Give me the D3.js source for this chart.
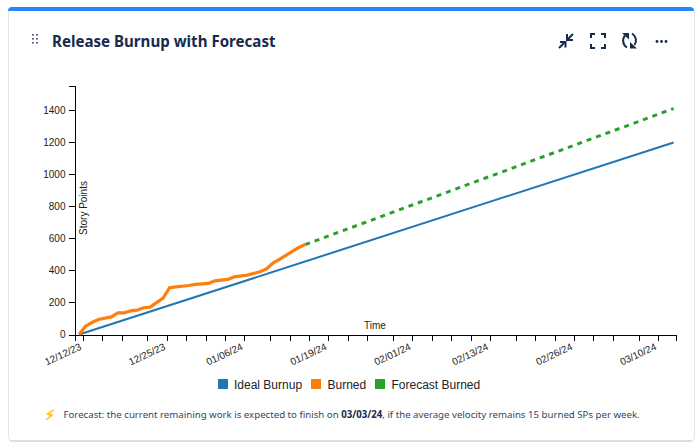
<!DOCTYPE html>
<html><head><meta charset="utf-8">
<script src="https://cdn.jsdelivr.net/npm/d3@7/dist/d3.min.js"></script>
<style>
html,body{margin:0;padding:0;background:#fff;width:699px;height:446px;overflow:hidden}
svg{display:block}
.ax text{font-family:"Liberation Sans",Arial,sans-serif;fill:#222}
.ax path,.ax line{stroke:#000;stroke-width:1;shape-rendering:crispEdges}
</style></head><body>
<svg id="c" width="699" height="446"></svg>
<script>
const titleText="Release Burnup with Forecast";
const legendNames=["Ideal Burnup","Burned","Forecast Burned"];
const seriesColors=["#1f77b4","#ff7f0e","#2ca02c"];
const yTicks=[0,200,400,600,800,1000,1200,1400];
const xTickDates=["2023-12-12","2023-12-15","2023-12-18","2023-12-22","2023-12-25","2023-12-28","2023-12-31","2024-01-03","2024-01-06","2024-01-10","2024-01-13","2024-01-16","2024-01-19","2024-01-22","2024-01-25","2024-01-29","2024-02-01","2024-02-04","2024-02-07","2024-02-10","2024-02-13","2024-02-17","2024-02-20","2024-02-23","2024-02-26","2024-02-29","2024-03-03","2024-03-07","2024-03-10"];
const idealDates=["2023-12-11","2024-03-12"];
const idealValues=[0,1200];
const burnedDates=["2023-12-11","2023-12-12","2023-12-13","2023-12-14","2023-12-16","2023-12-17","2023-12-18","2023-12-19","2023-12-20","2023-12-21","2023-12-22","2023-12-24","2023-12-25","2023-12-26","2023-12-28","2023-12-29","2023-12-31","2024-01-01","2024-01-03","2024-01-04","2024-01-06","2024-01-08","2024-01-09","2024-01-10","2024-01-11","2024-01-12","2024-01-14","2024-01-15"];
const burnedValues=[0,52,75,94,110,135,135,148,152,167,171,227,292,298,306,313,319,335,344,360,371,392,410,446,469,494,544,562];
const forecastDates=["2024-01-15","2024-03-12"];
const forecastValues=[562,1412];

const svg=d3.select("#c");
const day=s=>new Date(s+"T00:00:00Z");
const pt=s=>new Date(s+"T10:00:00Z");
const x=d3.scaleUtc().domain([new Date("2023-12-10T17:00:00Z"),new Date("2024-03-12T17:00:00Z")]).range([74.5,675.5]);
const y=d3.scaleLinear().domain([0,1556]).range([334.5,85.5]);

// card
svg.append("rect").attr("x",8.5).attr("y",8).attr("width",686).attr("height",433).attr("rx",4).attr("fill","#fff").attr("stroke","#e3e4ea");
svg.append("line").attr("x1",10).attr("x2",692).attr("y1",441).attr("y2",441).attr("stroke","#c9c9d6").attr("stroke-width",1);
svg.append("path").attr("d","M8,11V11a4,4 0 0 1 4,-4H690a4,4 0 0 1 4,4V11H8Z").attr("fill","#2684ff");

// title row
const grip=svg.append("g").attr("fill","#344563");
[33,37].forEach(gx=>[35,39,43].forEach(gy=>grip.append("rect").attr("x",gx-.9).attr("y",gy-1).attr("width",1.6).attr("height",1.6)));
svg.append("text").attr("x",52).attr("y",47).attr("font-family","'Noto Sans',sans-serif").attr("font-weight",700).attr("font-size",15.1).attr("fill","#172b4d").text(titleText);

// icons
const ic=svg.append("g").attr("stroke","#172b4d").attr("fill","none").attr("stroke-width",2);
ic.append("path").attr("d","M559,48L564,43M560,42H565.5V47.5M573,34L568,39M567,34V40H573");
ic.append("path").attr("d","M591,38V34H595M601,34H605V38M605,44V48H601M595,48H591V44");
ic.append("path").attr("d","M625,35.5A8,8 0 0 0 627,47.5M632,33.5A8,8 0 0 1 634.5,45");
const icf=svg.append("g").attr("fill","#172b4d");
icf.append("path").attr("d","M622,33H629V39.5Z");
icf.append("path").attr("d","M630,42V48.5H637Z");
const dots=svg.append("g").attr("fill","#172b4d");
[657,661.5,666].forEach(cx=>dots.append("circle").attr("cx",cx).attr("cy",41.5).attr("r",1.4));

// axes
const gx=svg.append("g").attr("class","ax").attr("transform","translate(0,334.5)")
 .call(d3.axisBottom(x).tickValues(xTickDates.map(day)).tickSize(6).tickFormat((d,i)=>i%4===0?d3.utcFormat("%m/%d/%y")(d):""));
gx.selectAll("text").attr("font-size",10).attr("text-anchor","end").attr("dx","0").attr("dy","0")
  .attr("transform","translate(-3,11) rotate(-25)").attr("y",4).attr("x",0);
const gy=svg.append("g").attr("class","ax").attr("transform","translate(74.5,0)")
 .call(d3.axisLeft(y).tickValues(yTicks).tickSize(6).tickFormat(d3.format("d")));
gy.selectAll("text").attr("font-size",10);

svg.append("text").attr("x",375).attr("y",329).attr("text-anchor","middle").attr("font-family","'Liberation Sans',Arial,sans-serif").attr("font-size",10).attr("fill","#222").text("Time");
svg.append("text").attr("transform","translate(87,208) rotate(-90)").attr("text-anchor","middle").attr("font-family","'Liberation Sans',Arial,sans-serif").attr("font-size",10).attr("fill","#222").text("Story Points");

// lines
const line=d3.line().x(d=>x(d[0])).y(d=>y(d[1]));
const zip=(a,b)=>a.map((s,i)=>[pt(s),b[i]]);
svg.append("path").datum(zip(idealDates,idealValues)).attr("d",line).attr("fill","none").attr("stroke",seriesColors[0]).attr("stroke-width",2);
svg.append("path").datum(zip(forecastDates,forecastValues)).attr("d",line).attr("fill","none").attr("stroke",seriesColors[2]).attr("stroke-width",3).attr("stroke-dasharray","5,5");
svg.append("path").datum(zip(burnedDates,burnedValues)).attr("d",line).attr("fill","none").attr("stroke",seriesColors[1]).attr("stroke-width",3.2);

// legend
const lx=[218,311,375], tx=[234,327.5,391.5];
legendNames.forEach((n,i)=>{
 svg.append("rect").attr("x",lx[i]).attr("y",379).attr("width",10).attr("height",10).attr("fill",seriesColors[i]);
 svg.append("text").attr("x",tx[i]).attr("y",389).attr("font-family","'Liberation Sans',Arial,sans-serif").attr("font-size",12).attr("fill","#222").text(n);
});

// footer
svg.append("text").attr("x",45).attr("y",420).attr("font-size",14).attr("fill","#fcc419").attr("stroke","#fcc419").attr("stroke-width",0.7).attr("font-family","'DejaVu Sans',sans-serif").text("⚡");
const ft=svg.append("text").attr("x",63.5).attr("y",418).attr("font-family","'Noto Sans',sans-serif").attr("font-size",9.67).attr("fill","#344563");
ft.append("tspan").text("Forecast: the current remaining work is expected to finish on ");
ft.append("tspan").attr("font-weight",700).attr("fill","#172b4d").text("03/03/24");
ft.append("tspan").text(", if the average velocity remains 15 burned SPs per week.");
</script></body></html>
